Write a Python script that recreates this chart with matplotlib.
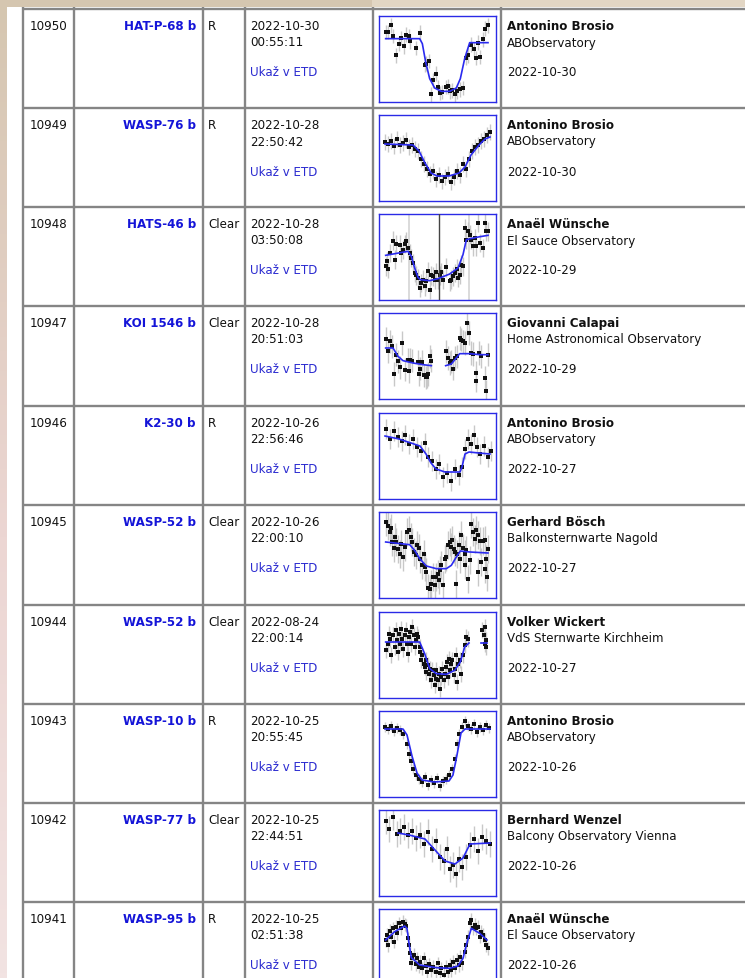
import matplotlib
matplotlib.use("Agg")
import matplotlib.pyplot as plt
import numpy as np
from matplotlib.colors import to_rgb

# ---------------- table data ----------------
ids = ["10950", "10949", "10948", "10947", "10946", "10945", "10944", "10943", "10942", "10941"]
planets = ["HAT-P-68 b", "WASP-76 b", "HATS-46 b", "KOI 1546 b", "K2-30 b",
           "WASP-52 b", "WASP-52 b", "WASP-10 b", "WASP-77 b", "WASP-95 b"]
filters = ["R", "R", "Clear", "Clear", "R", "Clear", "Clear", "R", "Clear", "R"]
dates = ["2022-10-30", "2022-10-28", "2022-10-28", "2022-10-28", "2022-10-26",
         "2022-10-26", "2022-08-24", "2022-10-25", "2022-10-25", "2022-10-25"]
times = ["00:55:11", "22:50:42", "03:50:08", "20:51:03", "22:56:46",
         "22:00:10", "22:00:14", "20:55:45", "22:44:51", "02:51:38"]
observers = ["Antonino Brosio", "Antonino Brosio", "Anaël Wünsche", "Giovanni Calapai",
             "Antonino Brosio", "Gerhard Bösch", "Volker Wickert", "Antonino Brosio",
             "Bernhard Wenzel", "Anaël Wünsche"]
observatories = ["ABObservatory", "ABObservatory", "El Sauce Observatory",
                 "Home Astronomical Observatory", "ABObservatory", "Balkonsternwarte Nagold",
                 "VdS Sternwarte Kirchheim", "ABObservatory", "Balcony Observatory Vienna",
                 "El Sauce Observatory"]
pub_dates = ["2022-10-30", "2022-10-30", "2022-10-29", "2022-10-29", "2022-10-27",
             "2022-10-27", "2022-10-27", "2022-10-26", "2022-10-26", "2022-10-26"]
link_text = "Ukaž v ETD"

# ---------------- light-curve thumbnails (values as read) ----------------
# 1 HAT-P-68 b
lc1_x = [48, 55, 65, 70, 78, 88, 95, 102, 110, 118, 122, 140, 152, 165, 170, 178, 183, 190, 198, 205,
         212, 218, 228, 235, 242, 248, 255, 262, 270, 280, 288, 295, 305, 312, 320, 325, 332, 340, 345, 355]
lc1_y = [100, 100, 80, 112, 170, 135, 118, 143, 108, 112, 128, 148, 102, 198, 195, 187, 287, 245, 225, 265,
         283, 280, 265, 263, 278, 275, 287, 278, 272, 268, 178, 170, 138, 152, 178, 132, 175, 122, 90, 80]
lc1_mx = [48, 150, 158, 168, 180, 195, 215, 240, 260, 272, 285, 300, 355]
lc1_my = [120, 120, 135, 190, 240, 268, 278, 278, 268, 240, 180, 132, 132]
lc1_err = 22

# 2 WASP-76 b
lc2_x = [385, 388, 391, 394, 397, 400, 403, 406, 409, 412, 415, 418, 421, 424, 427, 430, 433, 436, 439, 442,
         445, 448, 451, 454, 457, 460, 463, 466, 469, 472, 475, 478, 481, 484, 487, 490]
lc2_y = [143, 145, 142, 147, 140, 146, 144, 141, 148, 146, 150, 152, 160, 165, 170, 175, 172, 180, 176, 182,
         178, 175, 183, 178, 172, 176, 165, 170, 160, 152, 148, 146, 142, 140, 136, 133]
lc2_mx = [385, 413, 419, 425, 431, 437, 449, 459, 465, 471, 479, 485, 490]
lc2_my = [145, 146, 152, 164, 174, 177, 177, 174, 168, 156, 146, 140, 138]
lc2_err = 8

# 3 HATS-46 b
lc3_x = [48, 52, 55, 62, 70, 75, 80, 90, 95, 100, 105, 110, 115, 120, 125, 130, 135, 140, 145, 150,
         155, 160, 165, 170, 175, 180, 185, 190, 195, 200, 205, 210, 215, 220, 230, 240, 245, 250, 255, 262,
         265, 270, 275, 280, 285, 290, 295, 300, 305, 310, 315, 320, 325, 330, 340, 345, 350, 355]
lc3_y = [205, 190, 212, 165, 128, 185, 138, 140, 165, 155, 138, 130, 150, 165, 180, 195, 225, 232, 240, 270,
         255, 245, 265, 250, 220, 275, 232, 235, 245, 222, 245, 232, 222, 245, 208, 250, 245, 235, 225, 212,
         240, 230, 200, 205, 90, 125, 100, 110, 125, 145, 120, 145, 75, 135, 150, 75, 100, 100]
lc3_mx = [48, 115, 125, 135, 145, 152, 180, 205, 240, 265, 280, 290, 320, 355]
lc3_my = [172, 160, 175, 210, 238, 245, 248, 242, 228, 210, 170, 125, 118, 112]
lc3_err = 28
lc3_mid = 207
lc3_marks = [118, 298]

# 4 KOI 1546 b
lc4_x = [50, 55, 60, 68, 72, 78, 85, 92, 98, 105, 115, 118, 122, 128, 145, 148, 152, 158, 162, 168,
         172, 175, 180, 185, 230, 235, 240, 245, 250, 255, 262, 270, 275, 280, 285, 292, 298, 305, 310, 318,
         320, 328, 335, 345, 350, 356]
lc4_y = [122, 160, 130, 145, 228, 170, 190, 208, 135, 215, 185, 220, 185, 188, 192, 228, 212, 192, 232, 238,
         236, 228, 175, 188, 160, 180, 195, 190, 212, 180, 175, 120, 125, 130, 135, 75, 105, 165, 168, 248,
         225, 165, 175, 240, 280, 170]
lc4_m1x = [48, 70, 85, 100, 130, 160, 185]
lc4_m1y = [150, 150, 175, 188, 195, 200, 203]
lc4_m2x = [228, 245, 258, 270, 300, 330, 355]
lc4_m2y = [203, 198, 182, 167, 167, 170, 170]
lc4_err = 35

# 5 K2-30 b
lc5_x = [386, 390, 394, 398, 402, 405, 409, 413, 417, 421, 425, 428, 432, 436, 439, 443, 447, 451, 455, 459,
         462, 465, 468, 471, 474, 477, 480, 484, 488, 491]
lc5_y = [430, 440, 432, 438, 442, 436, 445, 440, 448, 452, 444, 458, 462, 470, 465, 478, 474, 482, 470, 476,
         468, 450, 440, 445, 436, 448, 455, 447, 458, 452]
lc5_mx = [385, 399, 420, 426, 431, 436, 445, 460, 462, 465, 469, 479, 490]
lc5_my = [437, 440, 447, 455, 464, 470, 473, 473, 468, 455, 453, 454, 455]
lc5_err = 10

# 6 WASP-52 b (Bösch)
lc6_x = [50, 55, 60, 65, 68, 72, 75, 80, 85, 90, 95, 100, 105, 112, 118, 125, 128, 132, 138, 142,
         148, 152, 158, 162, 165, 170, 175, 180, 185, 190, 195, 200, 205, 208, 212, 215, 220, 225, 230, 235,
         240, 245, 248, 252, 255, 258, 262, 268, 272, 275, 280, 285, 290, 295, 300, 305, 310, 315, 320, 325,
         330, 335, 340, 345, 348, 352, 355, 345, 325, 285]
lc6_y = [100, 112, 130, 118, 160, 178, 145, 160, 180, 195, 165, 205, 175, 130, 125, 145, 160, 190, 200, 170,
         178, 210, 230, 195, 235, 250, 298, 302, 285, 265, 290, 265, 255, 275, 245, 230, 290, 210, 205, 170,
         160, 175, 155, 180, 190, 285, 195, 170, 210, 140, 178, 195, 185, 270, 215, 105, 130, 150, 125, 140,
         158, 220, 158, 155, 210, 265, 180, 240, 250, 230]
lc6_mx = [48, 120, 135, 150, 170, 200, 230, 245, 260, 272, 300, 355]
lc6_my = [160, 168, 185, 210, 232, 240, 240, 230, 205, 187, 190, 193]
lc6_err = 42

# 7 WASP-52 b (Wickert)
lc7_x = [50, 55, 58, 62, 65, 70, 75, 78, 82, 85, 88, 92, 95, 98, 100, 105, 108, 112, 115, 118,
         122, 125, 128, 132, 135, 138, 142, 145, 150, 152, 155, 158, 162, 165, 168, 170, 175, 178, 182, 185,
         188, 192, 195, 198, 200, 205, 208, 212, 215, 218, 222, 225, 228, 232, 235, 238, 242, 245, 248, 252,
         255, 258, 262, 265, 270, 275, 280, 285, 290, 295, 338, 342, 345, 348, 350, 346]
lc7_y = [170, 150, 120, 135, 185, 125, 160, 110, 140, 175, 120, 150, 105, 135, 165, 125, 110, 150, 180, 130,
         115, 150, 100, 125, 160, 140, 120, 130, 160, 175, 200, 185, 210, 220, 235, 200, 215, 240, 225, 260,
         230, 245, 275, 255, 230, 260, 240, 285, 250, 225, 260, 240, 220, 205, 250, 195, 230, 210, 200, 245,
         225, 185, 265, 210, 200, 240, 185, 155, 130, 135, 110, 125, 150, 160, 140, 100]
lc7_mx = [48, 150, 165, 180, 200, 230, 255, 272, 285, 298]
lc7_my = [145, 145, 180, 225, 240, 242, 230, 205, 160, 148]
lc7_m2x = [335, 352]
lc7_m2y = [148, 148]
lc7_err = 24

# 8 WASP-10 b
lc8_x = [385, 388, 391, 394, 397, 400, 403, 407, 409, 411, 413, 416, 419, 422, 425, 428, 431, 434, 437, 440,
         443, 446, 449, 452, 455, 457, 459, 462, 465, 468, 471, 474, 477, 480, 483, 486, 489]
lc8_y = [728, 730, 727, 732, 729, 731, 735, 745, 755, 762, 770, 776, 780, 783, 778, 786, 781, 784, 779, 787,
         782, 780, 776, 770, 760, 745, 735, 728, 722, 727, 730, 725, 733, 728, 731, 726, 729]
lc8_mx = [385, 403, 407, 412, 417, 422, 434, 449, 453, 457, 461, 465, 490]
lc8_my = [730, 730, 736, 757, 774, 781, 783, 782, 776, 756, 734, 730, 730]
lc8_err = 5

# 9 WASP-77 b
lc9_x = [386, 389, 393, 397, 400, 404, 408, 412, 416, 420, 424, 428, 432, 436, 440, 444, 447, 450, 453, 456,
         459, 462, 466, 470, 474, 478, 482, 486, 490]
lc9_y = [822, 830, 818, 835, 832, 828, 836, 832, 839, 836, 845, 833, 850, 842, 858, 862, 850, 870, 866, 875,
         860, 868, 858, 846, 840, 852, 838, 842, 845]
lc9_mx = [398, 409, 425, 435, 445, 455, 463, 470, 490]
lc9_my = [834, 836, 840, 851, 862, 865, 859, 845, 844]
lc9_err = 13

# 10 WASP-95 b
lc10_x = [48, 52, 55, 60, 65, 70, 72, 78, 82, 88, 95, 100, 105, 110, 115, 118, 122, 125, 128, 132,
          138, 142, 148, 152, 158, 162, 168, 172, 178, 185, 190, 198, 205, 210, 215, 222, 228, 235, 240, 245,
          250, 255, 262, 268, 272, 278, 285, 290, 295, 300, 305, 310, 315, 320, 325, 330, 335, 340, 345, 350, 355]
lc10_y = [185, 170, 200, 158, 175, 150, 190, 145, 165, 135, 150, 130, 138, 142, 180, 200, 225, 255, 240, 230,
          258, 240, 265, 250, 270, 240, 262, 280, 258, 275, 265, 280, 255, 285, 270, 290, 265, 282, 260, 275,
          250, 268, 245, 260, 235, 255, 220, 200, 175, 135, 125, 150, 140, 150, 145, 175, 160, 170, 185, 200, 210]
lc10_mx = [48, 75, 105, 112, 118, 125, 150, 200, 240, 265, 280, 290, 305, 330, 352]
lc10_my = [185, 160, 143, 150, 195, 238, 260, 268, 270, 263, 240, 200, 150, 165, 185]
lc10_err = 20

# ---------------- layout ----------------
W, H = 745, 979
row_tops = [10, 109, 208, 307, 407, 506, 606, 705, 804, 903]
col_lines = [23, 74, 203, 244.5, 373, 501]

fig = plt.figure(figsize=(W / 100, H / 100), dpi=100)
ax = fig.add_axes([0, 0, 1, 1])
ax.set_xlim(0, W)
ax.set_ylim(H, 0)
ax.axis("off")

# page background gradient (left and top strips)
c_top = np.array(to_rgb("#d5c6b0"))
c_mid = np.array(to_rgb("#ecd6d3"))
c_bot = np.array(to_rgb("#f2e3e2"))
n = 200
t = np.linspace(0, 1, n)[:, None]
grad = np.where(t < 0.55, c_top + (c_mid - c_top) * (t / 0.55), c_mid + (c_bot - c_mid) * ((t - 0.55) / 0.45))
ax.imshow(grad[:, None, :], extent=(0, W, H, 0), aspect="auto", zorder=0)
ax.imshow(np.array([[c_top, np.array(to_rgb("#e2d6c4"))]]), extent=(0, W, 8, 0), aspect="auto", zorder=0.5)
ax.add_patch(plt.Rectangle((7, 8), W - 7, H - 8, facecolor="white", edgecolor="none", zorder=1))

grid_c = "#858585"
for x in col_lines:
    ax.plot([x, x], [8, H], color=grid_c, lw=1.7, zorder=2, solid_capstyle="butt")
for y in row_tops:
    ax.plot([col_lines[0] - 1, W], [y, y], color=grid_c, lw=1.7, zorder=2, solid_capstyle="butt")

fs = 8.6
txt_c = "#111111"
blue = "#1414d8"
link_c = "#2b2bd0"
for i, top in enumerate(row_tops):
    b1, b2, b4 = top + 20, top + 36.5, top + 66.5
    ax.text(30, b1, ids[i], fontsize=fs, color=txt_c, va="baseline", zorder=3)
    ax.text(196, b1, planets[i], fontsize=fs, color=blue, fontweight="bold", ha="right", va="baseline", zorder=3)
    ax.text(208, b1, filters[i], fontsize=fs, color=txt_c, va="baseline", zorder=3)
    ax.text(250, b1, dates[i], fontsize=fs, color=txt_c, va="baseline", zorder=3)
    ax.text(250, b2, times[i], fontsize=fs, color=txt_c, va="baseline", zorder=3)
    ax.text(250, b4, link_text, fontsize=fs, color=link_c, va="baseline", zorder=3)
    ax.text(507, b1, observers[i], fontsize=fs, color=txt_c, fontweight="bold", va="baseline", zorder=3)
    ax.text(507, b2, observatories[i], fontsize=fs, color=txt_c, va="baseline", zorder=3)
    ax.text(507, b4, pub_dates[i], fontsize=fs, color=txt_c, va="baseline", zorder=3)

# thumbnails: (x, y, model segments, err, view x-range, view y-range(top))
zoomx = (28, 28 + 117 * 3)


def zview(top_z):
    return zoomx, (top_z + 86 * 3, top_z)


def pview(top):
    return (379, 496), (top + 86, top)


curves = [
    (lc1_x, lc1_y, [(lc1_mx, lc1_my)], lc1_err, zview(52)),
    (lc2_x, lc2_y, [(lc2_mx, lc2_my)], lc2_err, pview(116)),
    (lc3_x, lc3_y, [(lc3_mx, lc3_my)], lc3_err, zview(48)),
    (lc4_x, lc4_y, [(lc4_m1x, lc4_m1y), (lc4_m2x, lc4_m2y)], lc4_err, zview(45)),
    (lc5_x, lc5_y, [(lc5_mx, lc5_my)], lc5_err, pview(414)),
    (lc6_x, lc6_y, [(lc6_mx, lc6_my)], lc6_err, zview(70)),
    (lc7_x, lc7_y, [(lc7_mx, lc7_my), (lc7_m2x, lc7_m2y)], lc7_err, zview(55)),
    (lc8_x, lc8_y, [(lc8_mx, lc8_my)], lc8_err, pview(712)),
    (lc9_x, lc9_y, [(lc9_mx, lc9_my)], lc9_err, pview(811)),
    (lc10_x, lc10_y, [(lc10_mx, lc10_my)], lc10_err, zview(92)),
]

for i, (xs, ys, models, err, (xl, yl)) in enumerate(curves):
    top = row_tops[i] + 7
    tax = fig.add_axes([379 / W, 1 - (top + 86) / H, 117 / W, 86 / H])
    tax.set_xlim(*xl)
    tax.set_ylim(*yl)
    tax.set_xticks([])
    tax.set_yticks([])
    tax.set_facecolor("white")
    for s in tax.spines.values():
        s.set_color("#2a2ae6")
        s.set_linewidth(1.0)
    if i == 2:
        for mx in lc3_marks:
            tax.axvline(mx, color="#d4d4d4", lw=1.2, zorder=1)
        tax.axvline(lc3_mid, color="#444444", lw=1.0, zorder=4)
    tax.vlines(xs, np.array(ys) - err, np.array(ys) + err, color="#c8c8c8", lw=1.0, zorder=2)
    tax.plot(xs, ys, "s", color="#111111", ms=2.4, mew=0, zorder=3)
    for mx, my in models:
        tax.plot(mx, my, color="#2a2af0", lw=1.2, zorder=5)

fig.savefig("out.png", dpi=100)
